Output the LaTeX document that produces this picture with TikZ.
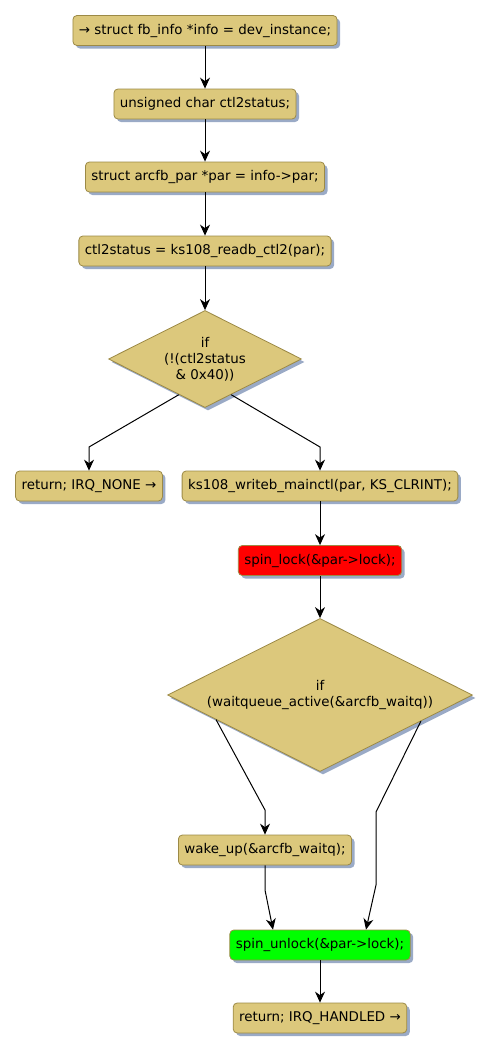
\documentclass[tikz,border=0pt]{standalone}
\usepackage{fontspec}
\setmainfont{DejaVu Sans}
\usetikzlibrary{arrows.meta, shapes.geometric, shadows, calc}
\definecolor{ink}{HTML}{000000}
\definecolor{tan}{HTML}{DCC87C}
\definecolor{rim}{HTML}{9C8A46}
\definecolor{shade}{HTML}{9AAAC6}
\definecolor{lockred}{HTML}{FF0000}
\definecolor{unlockgreen}{HTML}{00FF00}
\tikzset{
  font=\fontsize{13.4}{16}\selectfont,
  >={Stealth[length=11pt, width=10pt, inset=3.5pt]},
  %
  act/.style={
    draw=rim, line width=0.8pt, fill=tan, rounded corners=4pt,
    inner xsep=6pt, inner ysep=2pt, minimum height=30pt, text=ink,
    drop shadow={shadow xshift=3pt, shadow yshift=-3pt, fill=shade, opacity=1},
  },
  actr/.style={act, fill=lockred},
  actg/.style={act, fill=unlockgreen},
  %
  cond/.style={
    diamond, draw=rim, line width=0.8pt, fill=tan, aspect=2, inner sep=0pt,
    align=center, text=ink,
    drop shadow={shadow xshift=3pt, shadow yshift=-3pt, fill=shade, opacity=1},
  },
  %
  flow/.style={draw=ink, line width=1pt, ->},
}

\begin{document}
\begin{tikzpicture}[x=1pt, y=-1pt]
\useasboundingbox (0,0) rectangle (491,1052);

% ------------------------------------------------------------ entry
\node[act] (info) at (205,30.5) {→ struct fb\_info *info = dev\_instance;};
\node[act] (decl) at (205,104) {unsigned char ctl2status;};
\node[act] (par)  at (205,177) {struct arcfb\_par *par = info->par;};
\node[act] (rd)   at (205,251) {ctl2status = ks108\_readb\_ctl2(par);};

\node[cond, minimum width=193pt, minimum height=97pt] (c1) at (205,359)
  {if\\(!(ctl2status\\\& 0x40))};

\draw[flow] (info) -- (decl);
\draw[flow] (decl) -- (par);
\draw[flow] (par) -- (rd);
\draw[flow] (rd) -- (c1);

% ------------------------------------------------------------ branches
\node[act] (none) at (89,486) {return; IRQ\_NONE →};
\node[act] (clr)  at (320,486) {ks108\_writeb\_mainctl(par, KS\_CLRINT);};
\node[actr] (lock) at (320,560.5) {spin\_lock(\&par->lock);};

\coordinate (k1) at (89,447);
\coordinate (k2) at (320,447);
\draw[flow] ($(c1.south)!0.27!(c1.west)$) -- (k1) -- (none.north);
\draw[flow] ($(c1.south)!0.27!(c1.east)$) -- (k2) -- (clr.north);
\draw[flow] (clr) -- (lock);

% ------------------------------------------------------------ wait queue
\node[cond, minimum width=305pt, minimum height=153pt] (c2) at (320,695)
  {if\\(waitqueue\_active(\&arcfb\_waitq))};
\draw[flow] (lock) -- (c2);

\node[act] (wake)   at (265,850) {wake\_up(\&arcfb\_waitq);};
\node[actg] (unlock) at (320,945) {spin\_unlock(\&par->lock);};
\node[act] (done)   at (320,1018) {return; IRQ\_HANDLED →};

\coordinate (k3) at (265,810);
\coordinate (k4) at (376,812);
\coordinate (k5) at (376,885);
\coordinate (k6) at (265,890);
\draw[flow] ($(c2.south)!0.68!(c2.west)$) -- (k3) -- (wake.north);
\draw[flow] ($(c2.south)!0.66!(c2.east)$) -- (k4) -- (k5)
  -- ($(unlock.north)+(46,0)$);
\draw[flow] (wake.south) -- (k6) -- ($(unlock.north)+(-47,0)$);
\draw[flow] (unlock) -- (done);

\end{tikzpicture}
\end{document}
